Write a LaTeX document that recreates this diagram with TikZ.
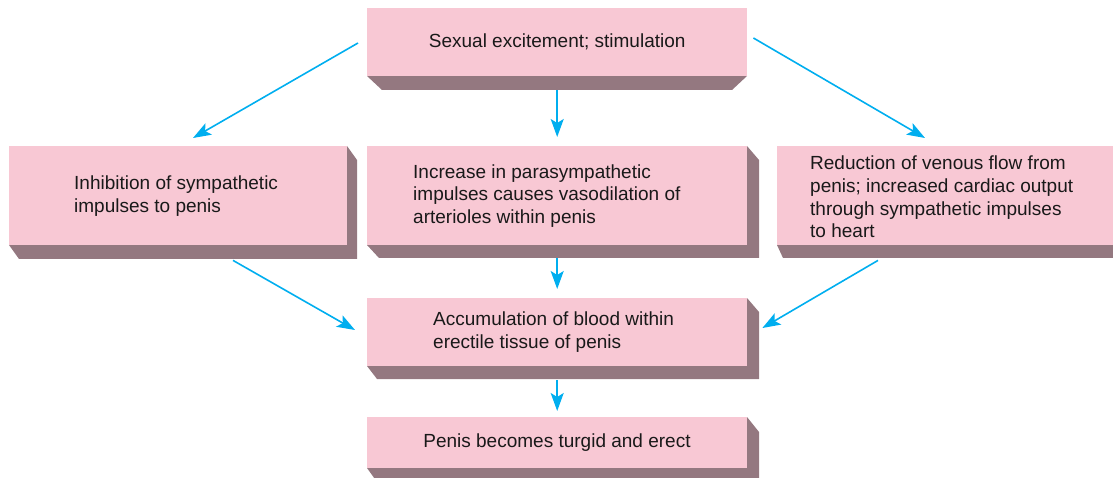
\documentclass[tikz,border=0pt]{standalone}
\usepackage{fontspec}
\setmainfont{Liberation Sans}
\usetikzlibrary{arrows.meta,calc}
\definecolor{boxpink}{RGB}{248,200,212}
\definecolor{boxside}{RGB}{148,120,128}
\definecolor{arrowblue}{RGB}{0,174,239}
\tikzset{
  front/.style={fill=boxpink, draw=none, inner sep=0pt, anchor=north west},
  side/.style={fill=boxside, draw=none},
  label/.style={font=\fontsize{19}{22.7}\selectfont, align=left, inner sep=0pt, text=black!90},
  flow/.style={draw=arrowblue, line width=1.6pt, -{Stealth[length=18pt,width=13pt,inset=4pt]}}
}
\begin{document}
\begin{tikzpicture}[x=1pt,y=-1pt]
\useasboundingbox (0,0) rectangle (1113,478);
% extrusions
\fill[side] (367,76) -- (747,76) -- (732,90) -- (382,90) -- cycle;
\fill[side] (347,146) -- (357,160) -- (357,259) -- (19,259) -- (9,245) -- (347,245) -- cycle;
\fill[side] (747,146) -- (759,160) -- (759,258) -- (379,258) -- (367,245) -- (747,245) -- cycle;
\fill[side] (777,245) -- (783,258) -- (1113,258) -- (1113,245) -- cycle;
\fill[side] (747,298) -- (759,312) -- (759,379) -- (377,379) -- (367,366) -- (747,366) -- cycle;
\fill[side] (747,417) -- (759,432) -- (759,482) -- (377,482) -- (367,468) -- (747,468) -- cycle;
% front faces
\node[front, minimum width=380pt, minimum height=68pt] (top) at (367,8) {};
\node[front, minimum width=338pt, minimum height=99pt] (left) at (9,146) {};
\node[front, minimum width=380pt, minimum height=99pt] (mid) at (367,146) {};
\node[front, minimum width=340pt, minimum height=99pt] (right) at (777,146) {};
\node[front, minimum width=380pt, minimum height=68pt] (acc) at (367,298) {};
\node[front, minimum width=380pt, minimum height=51pt] (erect) at (367,417) {};
% texts
\node[label] (ttop) at (top.center) {Sexual excitement; stimulation};
\node[label, anchor=west] (tleft) at (74,196) {Inhibition of sympathetic\\impulses to penis};
\node[label, anchor=west] (tmid) at (413,196) {Increase in parasympathetic\\impulses causes vasodilation of\\arterioles within penis};
\node[label, anchor=west] (tright) at (810,197) {Reduction of venous flow from\\penis; increased cardiac output\\through sympathetic impulses\\to heart};
\node[label, anchor=west] (tacc) at (433,332) {Accumulation of blood within\\erectile tissue of penis};
\node[label] (terect) at (557,443) {Penis becomes turgid and erect};
% arrows
\draw[flow] ($(top.north west)+(-9,35)$) -- ($(left.north west)+(184,-8)$);
\draw[flow] ($(top.south)+(0,14)$) -- ($(mid.north)+(0,-9)$);
\draw[flow] ($(top.north east)+(6,30)$) -- ($(right.north west)+(148,-8)$);
\draw[flow] ($(left.south west)+(224,15)$) -- ($(acc.north west)+(-12,32)$);
\draw[flow] ($(mid.south)+(0,13)$) -- ($(acc.north)+(0,-9)$);
\draw[flow] ($(right.south west)+(101,15)$) -- ($(acc.north east)+(15,30)$);
\draw[flow] ($(acc.south)+(0,14)$) -- ($(erect.north)+(0,-6)$);
\end{tikzpicture}
\end{document}
